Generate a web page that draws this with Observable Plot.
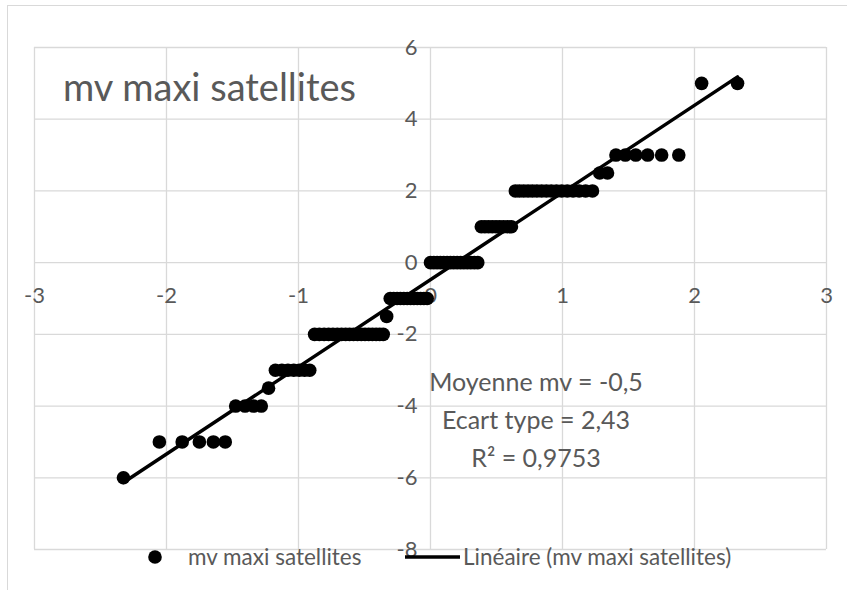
<!DOCTYPE html>
<html><head><meta charset="utf-8">
<script src="https://cdn.jsdelivr.net/npm/d3@7"></script>
<script src="https://cdn.jsdelivr.net/npm/@observablehq/plot@0.6"></script>
<style>
body{margin:0;background:#fff;}
#wrap{position:relative;width:847px;height:590px;overflow:hidden;font-family:Lato,"Open Sans",sans-serif;color:#595959;}
#border{position:absolute;left:7px;top:5px;width:1000px;height:1000px;border:1px solid #d9d9d9;box-sizing:border-box;}
#chart{position:absolute;left:0;top:0;}
.ov{position:absolute;white-space:nowrap;line-height:1;}
#title{left:63px;top:67px;font-size:38px;}
.ann{left:536px;transform:translateX(-50%);font-size:25px;text-align:center;}
#legend{position:absolute;left:0;top:537px;width:847px;height:40px;overflow:visible;}
</style>
</head><body>
<div id="wrap">
  <div id="border"></div>
  <div id="chart"></div>
  <div class="ov" id="title">mv maxi satellites</div>
  <div class="ov ann" style="top:369px">Moyenne mv = -0,5</div>
  <div class="ov ann" style="top:407px">Ecart type = 2,43</div>
  <div class="ov ann" style="top:445px">R² = 0,9753</div>
  <svg id="legend" width="847" height="40"></svg>
</div>
<script>
// Normal scores (theoretical quantiles) read from the horizontal positions
const normalScores = [
  -2.326,-2.054,-1.881,-1.751,-1.645,-1.555,-1.476,-1.405,-1.341,-1.282,
  -1.227,-1.175,-1.126,-1.080,-1.036,-0.994,-0.954,-0.915,-0.878,-0.842,
  -0.806,-0.772,-0.739,-0.706,-0.674,-0.643,-0.613,-0.583,-0.553,-0.524,
  -0.496,-0.468,-0.440,-0.412,-0.385,-0.358,-0.332,-0.305,-0.279,-0.253,
  -0.228,-0.202,-0.176,-0.151,-0.126,-0.100,-0.075,-0.050,-0.025,0.000,
  0.025,0.050,0.075,0.100,0.126,0.151,0.176,0.202,0.228,0.253,
  0.279,0.305,0.332,0.358,0.385,0.412,0.440,0.468,0.496,0.524,
  0.553,0.583,0.613,0.643,0.674,0.706,0.739,0.772,0.806,0.842,
  0.878,0.915,0.954,0.994,1.036,1.080,1.126,1.175,1.227,1.282,
  1.341,1.405,1.476,1.555,1.645,1.751,1.881,2.054,2.326
];
// mv maxi satellites (sorted)
const mvValues = [
  -6,
  -5,-5,-5,-5,-5,
  -4,-4,-4,-4,
  -3.5,
  -3,-3,-3,-3,-3,-3,-3,
  -2,-2,-2,-2,-2,-2,-2,-2,-2,-2,-2,-2,-2,-2,-2,-2,-2,-2,
  -1.5,
  -1,-1,-1,-1,-1,-1,-1,-1,-1,-1,-1,-1,
  0,0,0,0,0,0,0,0,0,0,0,0,0,0,0,
  1,1,1,1,1,1,1,1,1,
  2,2,2,2,2,2,2,2,2,2,2,2,2,2,2,2,
  2.5,2.5,
  3,3,3,3,3,3,
  5,5
];
const xTicks = [-3,-2,-1,0,1,2,3];
const yTicks = [-8,-6,-4,-2,0,2,4,6];
const xTickLabels = ["-3","-2","-1","0","1","2","3"];
const yTickLabels = ["-8","-6","-4","-2","0","2","4","6"];

const data = normalScores.map((x,i)=>({x, y: mvValues[i]}));
const grid = "#d9d9d9", txt = "#595959";

const plot = Plot.plot({
  width: 847, height: 590,
  marginLeft: 34, marginRight: 21, marginTop: 47, marginBottom: 41,
  x: {domain: [-3,3], axis: null},
  y: {domain: [-8,6], axis: null},
  style: {background: "transparent", fontFamily: "Lato, 'Open Sans', sans-serif"},
  marks: [
    Plot.gridX(xTicks, {stroke: grid, strokeOpacity: 1, strokeWidth: 1.3}),
    Plot.gridY(yTicks, {stroke: grid, strokeOpacity: 1, strokeWidth: 1.3}),
    Plot.text(xTicks, {x: d=>d, y: ()=>0, text: (d,i)=>xTickLabels[i], dy: 33, fill: txt, fontSize: 22}),
    Plot.text(yTicks, {x: ()=>0, y: d=>d, text: (d,i)=>yTickLabels[i], dx: -13, textAnchor: "end", fill: txt, fontSize: 22}),
    Plot.dot(data, {x: "x", y: "y", r: 6.8, fill: "black"}),
    Plot.linearRegressionY(data, {x: "x", y: "y", stroke: "black", strokeWidth: 3.5, ci: 0})
  ]
});
document.getElementById("chart").append(plot);

// legend
const lg = d3.select("#legend");
const ly = 20;
lg.append("circle").attr("cx",155).attr("cy",ly).attr("r",6.8).attr("fill","black");
lg.append("text").attr("x",188).attr("y",ly).attr("dy","0.35em").attr("fill",txt)
  .style("font-size","22.5px").style("font-family","Lato,'Open Sans',sans-serif").text("mv maxi satellites");
lg.append("line").attr("x1",405).attr("x2",460).attr("y1",ly).attr("y2",ly).attr("stroke","black").attr("stroke-width",3.5);
lg.append("text").attr("x",463).attr("y",ly).attr("dy","0.35em").attr("fill",txt)
  .style("font-size","22.5px").style("font-family","Lato,'Open Sans',sans-serif").text("Linéaire (mv maxi satellites)");
</script>
</body></html>
